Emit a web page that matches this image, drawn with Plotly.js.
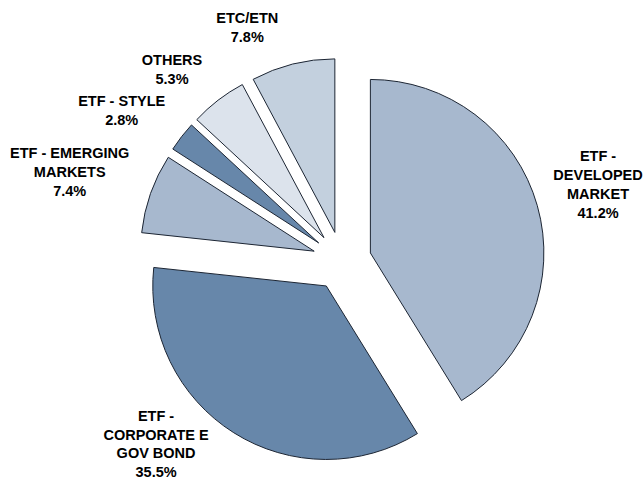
<!DOCTYPE html>
<html>
<head>
<meta charset="utf-8">
<script src="https://cdn.plot.ly/plotly-3.0.1.min.js"></script>
<style>html,body{margin:0;padding:0;background:#fff;}#chart{width:643px;height:480px;}</style>
</head>
<body>
<div id="chart"></div>
<script>
var categories = ["ETF -<br>DEVELOPED<br>MARKET", "ETF -<br>CORPORATE E<br>GOV BOND", "ETF - EMERGING<br>MARKETS", "ETF - STYLE", "OTHERS", "ETC/ETN"];
var shares = [41.2, 35.5, 7.4, 2.8, 5.3, 7.8];
var sliceColors = ["#a7b8ce", "#6787aa", "#a7b8ce", "#6787aa", "#dce3ec", "#c3d0de"];
var clear = categories.map(function () { return "rgba(0,0,0,0)"; });

// slices
var pieTrace = {
  type: "pie",
  labels: categories,
  values: shares,
  sort: false,
  direction: "clockwise",
  rotation: 0,
  pull: 0.17,
  domain: {x: [10 / 416, 1], y: [0, 406 / 429]},
  marker: {colors: sliceColors, line: {color: "#1c2533", width: 1}},
  textinfo: "none",
  hoverinfo: "label+value",
  showlegend: false
};

// outside labels of the same slices (transparent copy, slightly shifted frame)
var labelTrace = {
  type: "pie",
  labels: categories,
  values: shares,
  sort: false,
  direction: "clockwise",
  rotation: 0,
  pull: 0.17,
  domain: {x: [2 / 416, 414 / 416], y: [14.3 / 429, 426.3 / 429]},
  marker: {colors: clear, line: {width: 0}},
  textposition: "outside",
  texttemplate: "<b>%{label}<br>%{value:.1f}%</b>",
  textfont: {family: "Arial", size: 14.5, color: "#000000"},
  hoverinfo: "skip",
  showlegend: false
};

var layout = {
  width: 643,
  height: 480,
  margin: {l: 129, r: 98, t: 35, b: 16},
  paper_bgcolor: "#ffffff",
  plot_bgcolor: "#ffffff",
  showlegend: false
};

Plotly.newPlot("chart", [pieTrace, labelTrace], layout, {displayModeBar: false, staticPlot: true});
</script>
</body>
</html>
